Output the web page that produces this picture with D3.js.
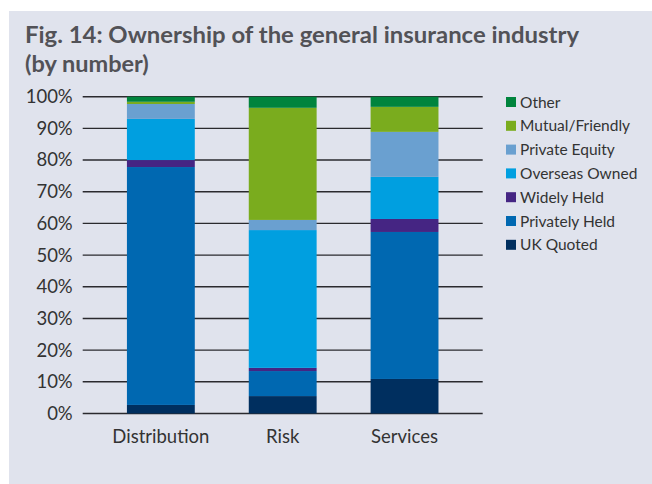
<!DOCTYPE html>
<html><head><meta charset="utf-8">
<script src="https://cdn.jsdelivr.net/npm/d3@7"></script>
<style>body{margin:0;background:#fff}svg{display:block}</style>
</head><body>
<svg id="c" width="652" height="484"></svg>
<script>
const categories = ["Distribution", "Risk", "Services"];
const seriesNames = ["UK Quoted", "Privately Held", "Widely Held", "Overseas Owned", "Private Equity", "Mutual/Friendly", "Other"];
const ukQuoted      = [2.7, 5.5, 10.9];
const privatelyHeld = [75.1, 7.9, 46.4];
const widelyHeld    = [2.2, 1.0, 4.1];
const overseasOwned = [13.0, 43.5, 13.3];
const privateEquity = [4.7, 3.2, 14.2];
const mutualFriendly= [0.7, 35.4, 7.9];
const other         = [1.6, 3.5, 3.2];
const seriesColors  = ["#002f5f", "#0068b1", "#452583", "#009fe0", "#6aa0d0", "#7aac1e", "#00843d"];
const yTicks = [0, 10, 20, 30, 40, 50, 60, 70, 80, 90, 100];
const titleLines = ["Fig. 14: Ownership of the general insurance industry", "(by number)"];

const values = [ukQuoted, privatelyHeld, widelyHeld, overseasOwned, privateEquity, mutualFriendly, other];
const rows = categories.map((c, i) => {
  const r = {cat: c};
  seriesNames.forEach((s, j) => r[s] = values[j][i]);
  return r;
});

const svg = d3.select("#c");
svg.append("rect").attr("x", 9).attr("y", 11).attr("width", 643).attr("height", 473).attr("fill", "#e0e3ed");

const font = "Lato, 'Open Sans', sans-serif";
const title = svg.append("g").attr("fill", "#525257").attr("font-family", font).attr("font-weight", "bold").attr("font-size", 23.5);
titleLines.forEach((t, i) => {
  const tt = title.append("text").attr("x", 25).attr("y", 43 + i * 28.5).text(t);
  if (i === 0) tt.attr("textLength", 554).attr("lengthAdjust", "spacingAndGlyphs");
});

const x = d3.scaleBand().domain(categories).range([82.7, 482.7]).paddingInner(0.443).paddingOuter(0.363);
const y = d3.scaleLinear().domain([0, 100]).range([413.5, 96.7]);

const grid = svg.append("g");
grid.selectAll("line").data(yTicks).join("line")
  .attr("x1", 82.7).attr("x2", 482.7)
  .attr("y1", d => y(d)).attr("y2", d => y(d))
  .attr("stroke", "#2a2a2e").attr("stroke-width", 1.4);

const yAxis = svg.append("g").attr("transform", "translate(82.7,0)")
  .call(d3.axisLeft(y).tickValues(yTicks).tickFormat(d => d + "%").tickSize(0).tickPadding(10));
yAxis.select(".domain").remove();
yAxis.selectAll("text").attr("font-family", font).attr("font-size", 18.5).attr("fill", "#333");

const stacked = d3.stack().keys(seriesNames)(rows);
svg.append("g").selectAll("g").data(stacked).join("g")
  .attr("fill", (d, i) => seriesColors[i])
  .selectAll("rect").data(d => d).join("rect")
  .attr("x", d => x(d.data.cat)).attr("width", x.bandwidth())
  .attr("y", d => y(d[1])).attr("height", d => y(d[0]) - y(d[1]));

const xAxis = svg.append("g").attr("transform", "translate(0,413.5)")
  .call(d3.axisBottom(x).tickSize(0).tickPadding(16));
xAxis.select(".domain").remove();
xAxis.selectAll("text").attr("font-family", font).attr("font-size", 18.5).attr("fill", "#333");

const legendItems = seriesNames.map((s, i) => ({name: s, color: seriesColors[i]})).reverse();
const lg = svg.append("g").selectAll("g").data(legendItems).join("g")
  .attr("transform", (d, i) => `translate(506,${102 + i * 23.8})`);
lg.append("rect").attr("x", 0).attr("y", -5).attr("width", 10).attr("height", 10).attr("fill", d => d.color);
lg.append("text").attr("x", 14).attr("y", 5.5).attr("font-family", font).attr("font-size", 15.5).attr("fill", "#333").text(d => d.name);
</script>
</body></html>
